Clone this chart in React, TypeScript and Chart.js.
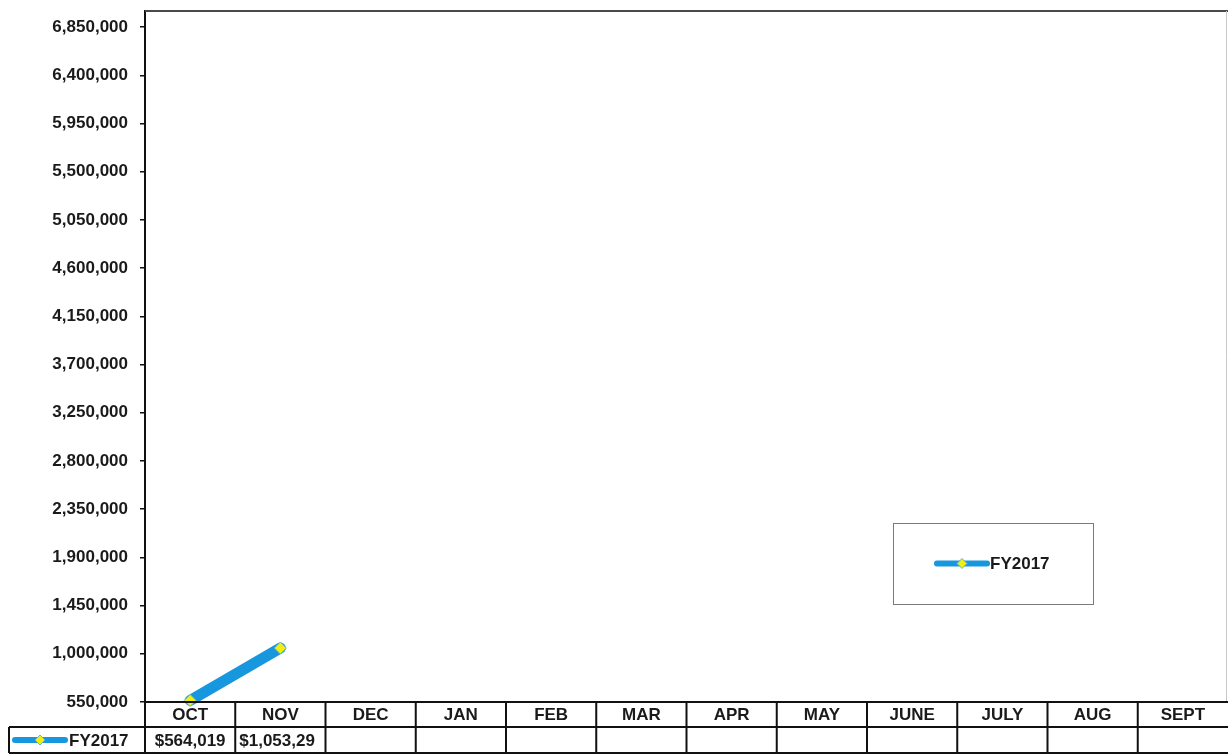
import { useEffect, useRef } from 'react';
import { Chart, registerables } from 'chart.js';

Chart.register(...registerables);

// Fiscal-year months, October through September
const months = ['OCT', 'NOV', 'DEC', 'JAN', 'FEB', 'MAR', 'APR', 'MAY', 'JUNE', 'JULY', 'AUG', 'SEPT'];

// Cumulative FY2017 totals (only the first two months reported)
const fy2017: (number | null)[] = [564019, 1053290, null, null, null, null, null, null, null, null, null, null];

// Value-axis tick marks
const yTicks = [
  550000, 1000000, 1450000, 1900000, 2350000, 2800000, 3250000,
  3700000, 4150000, 4600000, 5050000, 5500000, 5950000, 6400000, 6850000,
];
const yMin = 550000;
const yMax = 7000000;

const seriesLabel = 'FY2017';

const LINE_COLOR = '#1797dd';
const MARKER_FILL = '#f0f00e';
const MARKER_EDGE = '#6fb0c8';
const INK = '#1a1a1a';
const FONT_FAMILY = '"Liberation Sans", Arial, sans-serif';
const FONT_SIZE = 17;

const fmtMoney = (v: number) => '$' + v.toLocaleString('en-US');

function drawDiamond(ctx: CanvasRenderingContext2D, x: number, y: number, r: number) {
  ctx.save();
  ctx.beginPath();
  ctx.moveTo(x, y - r);
  ctx.lineTo(x + r, y);
  ctx.lineTo(x, y + r);
  ctx.lineTo(x - r, y);
  ctx.closePath();
  ctx.fillStyle = MARKER_FILL;
  ctx.fill();
  ctx.lineWidth = 1;
  ctx.strokeStyle = MARKER_EDGE;
  ctx.stroke();
  ctx.restore();
}

function drawLegendKey(ctx: CanvasRenderingContext2D, x1: number, x2: number, y: number) {
  ctx.save();
  ctx.strokeStyle = LINE_COLOR;
  ctx.lineWidth = 6;
  ctx.lineCap = 'round';
  ctx.beginPath();
  ctx.moveTo(x1, y);
  ctx.lineTo(x2, y);
  ctx.stroke();
  ctx.restore();
  drawDiamond(ctx, (x1 + x2) / 2, y, 5);
}

// Frame, data table under the plot and the floating legend box
const tablePlugin = {
  id: 'dataTable',
  afterDraw(chart: any) {
    const { ctx, chartArea, scales } = chart;
    const xs = scales.x;
    const n = months.length;
    const colW = (xs.right - xs.left) / n;
    const top = chartArea.bottom;
    const mid = top + 25;
    const bottom = top + 51;
    const legendLeft = 9;

    ctx.save();
    // plot frame
    ctx.strokeStyle = '#4a4a4a';
    ctx.lineWidth = 2;
    ctx.beginPath();
    ctx.moveTo(chartArea.left, chartArea.top);
    ctx.lineTo(chartArea.right, chartArea.top);
    ctx.stroke();
    ctx.strokeStyle = '#c8c8c8';
    ctx.lineWidth = 1;
    ctx.beginPath();
    ctx.moveTo(chartArea.right - 1.5, chartArea.top);
    ctx.lineTo(chartArea.right - 1.5, top);
    ctx.stroke();

    // table grid
    ctx.strokeStyle = '#111';
    ctx.lineWidth = 2;
    ctx.beginPath();
    ctx.moveTo(chartArea.left, top);
    ctx.lineTo(chartArea.right, top);
    ctx.moveTo(legendLeft, mid);
    ctx.lineTo(chartArea.right, mid);
    ctx.moveTo(legendLeft, bottom);
    ctx.lineTo(chartArea.right, bottom);
    ctx.moveTo(legendLeft, mid);
    ctx.lineTo(legendLeft, bottom);
    for (let i = 0; i < n; i++) {
      const cx = xs.getPixelForValue(i) - colW / 2;
      ctx.moveTo(cx, top);
      ctx.lineTo(cx, bottom);
    }
    ctx.stroke();

    // header and values
    ctx.font = `bold ${FONT_SIZE}px ${FONT_FAMILY}`;
    ctx.fillStyle = INK;
    ctx.textBaseline = 'middle';
    months.forEach((m, i) => {
      const cx = xs.getPixelForValue(i);
      ctx.textAlign = 'center';
      ctx.fillText(m, cx, (top + mid) / 2 + 1);
      const v = fy2017[i];
      if (v != null) {
        let text = fmtMoney(v);
        const avail = colW - 8;
        if (ctx.measureText(text).width > avail) {
          while (text.length > 1 && ctx.measureText(text).width > avail) text = text.slice(0, -1);
          ctx.textAlign = 'left';
          ctx.fillText(text, cx - colW / 2 + 4, (mid + bottom) / 2 + 1);
        } else {
          ctx.fillText(text, cx, (mid + bottom) / 2 + 1);
        }
      }
    });

    // series key in the table
    drawLegendKey(ctx, 15, 65, (mid + bottom) / 2);
    ctx.fillStyle = INK;
    ctx.textAlign = 'left';
    ctx.fillText(seriesLabel, 69, (mid + bottom) / 2 + 1);

    // legend box
    const bx = 893, by = 523, bw = 200, bh = 81;
    ctx.fillStyle = '#fff';
    ctx.fillRect(bx, by, bw, bh);
    ctx.strokeStyle = '#7a7a7a';
    ctx.lineWidth = 1;
    ctx.strokeRect(bx + 0.5, by + 0.5, bw, bh);
    drawLegendKey(ctx, 937, 987, by + bh / 2);
    ctx.fillStyle = INK;
    ctx.font = `bold ${FONT_SIZE}px ${FONT_FAMILY}`;
    ctx.fillText(seriesLabel, 990, by + bh / 2 + 1);
    ctx.restore();
  },
};

export default function App() {
  const canvasRef = useRef<HTMLCanvasElement | null>(null);

  useEffect(() => {
    if (!canvasRef.current) return;
    const chart = new Chart(canvasRef.current, {
      type: 'line',
      data: {
        labels: months,
        datasets: [
          {
            label: seriesLabel,
            data: fy2017,
            borderColor: LINE_COLOR,
            borderWidth: 11,
            borderCapStyle: 'round',
            backgroundColor: LINE_COLOR,
            pointStyle: 'rectRot',
            pointRadius: 6,
            pointBackgroundColor: MARKER_FILL,
            pointBorderColor: MARKER_EDGE,
            pointBorderWidth: 1,
            spanGaps: false,
            clip: 12,
          },
        ],
      },
      options: {
        responsive: false,
        animation: false,
        layout: { autoPadding: false, padding: { top: 11, bottom: 53, right: 0, left: 0 } },
        plugins: {
          legend: { display: false },
          tooltip: { enabled: false },
        },
        scales: {
          x: { display: false, offset: true },
          y: {
            min: yMin,
            max: yMax,
            afterBuildTicks: (scale: any) => {
              scale.ticks = yTicks.map((v) => ({ value: v }));
            },
            afterFit: (scale: any) => {
              scale.width = 145;
              scale.paddingTop = 0;
              scale.paddingBottom = 0;
            },
            border: { display: true, color: '#111', width: 2 },
            grid: { drawOnChartArea: false, drawTicks: true, tickLength: 5, color: '#111', lineWidth: 1.5 },
            ticks: {
              padding: 12,
              color: INK,
              font: { family: FONT_FAMILY, size: FONT_SIZE, weight: 'bold' },
              callback: (v: any) => Number(v).toLocaleString('en-US'),
            },
          },
        },
      },
      plugins: [tablePlugin],
    });
    return () => chart.destroy();
  }, []);

  return (
    <div style={{ position: 'fixed', left: 0, top: 0, width: 1228, height: 755, background: '#fff' }}>
      <canvas ref={canvasRef} width={1228} height={755} />
    </div>
  );
}
